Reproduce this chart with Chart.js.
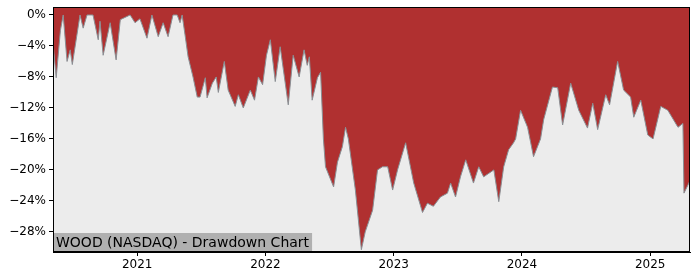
<!DOCTYPE html>
<html>
<head>
<meta charset="utf-8">
<script src="https://cdn.jsdelivr.net/npm/chart.js@4/dist/chart.umd.min.js"></script>
<style>
  html, body { margin:0; padding:0; background:#fff; }
  #wrap { width:700px; height:280px; position:relative; }
</style>
</head>
<body>
<div id="wrap"><canvas id="ddChart"></canvas></div>
<script>
const title = "WOOD (NASDAQ) - Drawdown Chart";

const dates = [
  "2020-05-07","2020-05-15","2020-05-27","2020-06-04","2020-06-15","2020-06-24","2020-06-30",
  "2020-07-22","2020-07-31","2020-08-11","2020-08-28","2020-09-12","2020-09-17","2020-09-26",
  "2020-10-16","2020-11-02","2020-11-14","2020-12-12","2020-12-26","2021-01-09","2021-01-29",
  "2021-02-12","2021-03-02","2021-03-16","2021-03-30","2021-04-13","2021-04-25","2021-05-03",
  "2021-05-09","2021-05-18","2021-05-26","2021-06-09","2021-06-21","2021-06-29","2021-07-14",
  "2021-07-19","2021-08-03","2021-08-14","2021-08-20","2021-09-06","2021-09-17","2021-10-07",
  "2021-10-16","2021-10-30","2021-11-19","2021-12-01","2021-12-12","2021-12-24","2022-01-04",
  "2022-01-15","2022-01-29","2022-02-12","2022-03-07","2022-03-21","2022-04-07","2022-04-21",
  "2022-04-30","2022-05-06","2022-05-14","2022-05-29","2022-06-07","2022-06-15","2022-06-21",
  "2022-07-14","2022-07-25","2022-08-08","2022-08-17","2022-08-25","2022-09-14","2022-10-01",
  "2022-10-12","2022-11-02","2022-11-16","2022-11-30","2022-12-15","2022-12-29","2023-01-12",
  "2023-02-04","2023-02-27","2023-03-24","2023-04-07","2023-04-24","2023-05-14","2023-06-03",
  "2023-06-12","2023-06-26","2023-07-10","2023-07-25","2023-08-16","2023-08-31","2023-09-14",
  "2023-10-13","2023-10-27","2023-11-10","2023-11-24","2023-12-08","2023-12-14","2023-12-28",
  "2024-01-17","2024-01-26","2024-02-03","2024-02-23","2024-03-03","2024-03-28","2024-04-12",
  "2024-04-26","2024-05-19","2024-06-11","2024-07-06","2024-07-21","2024-08-04","2024-08-27",
  "2024-09-07","2024-09-30","2024-10-17","2024-11-06","2024-11-15","2024-12-05","2024-12-25",
  "2025-01-09","2025-01-31","2025-02-20","2025-03-21","2025-04-04","2025-04-07","2025-04-21",
  "2025-04-27"
];

const drawdown = [
  -4.1,-8.1,-2.0,0.0,-6.0,-4.5,-6.4,
  0.0,-1.7,0.0,0.0,-3.2,-0.8,-5.2,
  -1.0,-5.8,-0.6,0.0,-1.0,-0.5,-3.0,
  0.0,-2.8,-1.0,-2.8,0.0,0.0,-1.0,
  0.0,-2.8,-5.4,-8.0,-10.6,-10.6,-8.1,
  -10.7,-8.8,-8.0,-10.0,-6.0,-9.7,-11.8,
  -10.3,-12.0,-9.7,-11.0,-8.0,-9.0,-5.2,
  -3.2,-8.6,-4.1,-11.6,-5.2,-8.0,-4.5,
  -6.5,-5.4,-11.0,-8.1,-7.4,-16.0,-19.6,
  -22.2,-19.0,-17.0,-14.5,-16.0,-22.6,-30.3,
  -28.0,-25.2,-20.0,-19.6,-19.6,-22.6,-20.0,
  -16.5,-21.7,-25.5,-24.3,-24.7,-23.5,-23.0,
  -21.7,-23.5,-20.9,-18.7,-21.7,-19.6,-20.9,
  -20.0,-24.1,-19.6,-17.4,-16.5,-16.0,-12.3,
  -14.5,-16.5,-18.3,-16.0,-13.5,-9.3,-9.4,
  -14.2,-8.8,-12.3,-14.6,-11.4,-14.8,-10.3,
  -11.6,-6.0,-9.7,-10.6,-13.2,-11.0,-15.5,
  -16.0,-11.8,-12.3,-14.5,-14.0,-23.0,-21.7,
  -21.0
];

const yTicks = [0,-4,-8,-12,-16,-20,-24,-28];
const xTicks = [2021,2022,2023,2024,2025];

function toYear(s){
    const d = Date.parse(s+"T00:00:00Z");
    const y = Number(s.slice(0,4));
    const a = Date.UTC(y,0,1), b = Date.UTC(y+1,0,1);
    return y + (d-a)/(b-a);
}

const points = dates.map((d,i)=>({x: toYear(d), y: drawdown[i]}));

const frame = {
    id:'frame',
    beforeDraw(chart){
        const {ctx, chartArea:a} = chart;
        ctx.save();
        ctx.fillStyle = '#ececec';
        ctx.fillRect(a.left, a.top, a.right-a.left, a.bottom-a.top);
        ctx.restore();
    },
    afterDraw(chart){
        const {ctx, chartArea:a} = chart;
        ctx.save();
        // title box
        ctx.font = '14px "DejaVu Sans"';
        const w = ctx.measureText(title).width;
        ctx.fillStyle = '#b0b0b0';
        ctx.fillRect(a.left, a.bottom-19, w+6, 19);
        ctx.fillStyle = '#000';
        ctx.textBaseline = 'middle';
        ctx.fillText(title, a.left+3, a.bottom-9);
        // box border
        ctx.strokeStyle = '#000';
        ctx.lineWidth = 1;
        ctx.strokeRect(a.left+0.5, a.top+0.5, a.right-a.left-1, a.bottom-a.top-1);
        ctx.restore();
    }
};

new Chart(document.getElementById('ddChart'), {
    type:'line',
    data:{
        datasets:[{
            data: points,
            borderColor:'#8a8f94',
            borderWidth:1,
            backgroundColor:'#b03030',
            fill:'end',
            pointRadius:0,
            tension:0
        }]
    },
    options:{
        responsive:true,
        maintainAspectRatio:false,
        animation:false,
        layout:{ padding:{ left:0, right:10, top:7, bottom:0 } },
        plugins:{ legend:{display:false}, tooltip:{enabled:false} },
        scales:{
            x:{
                type:'linear',
                min: 2020.344,
                max: 2025.31,
                afterBuildTicks: s => { s.ticks = xTicks.map(v=>({value:v})); },
                afterFit: s => { s.height = 28; s.paddingLeft = 0; s.paddingRight = 0; },
                ticks:{
                    color:'#000',
                    font:{ family:'DejaVu Sans', size:12 },
                    padding:2,
                    maxRotation:0,
                    callback: v => String(v)
                },
                grid:{ drawOnChartArea:false, tickLength:4, color:'#000' },
                border:{ display:true, color:'#000' }
            },
            y:{
                min:-30.6,
                max:1.03,
                afterBuildTicks: s => { s.ticks = yTicks.map(v=>({value:v})); },
                afterFit: s => { s.width = 53; s.paddingTop = 0; s.paddingBottom = 0; },
                ticks:{
                    color:'#000',
                    font:{ family:'DejaVu Sans', size:12 },
                    padding:3,
                    callback: v => (v<0 ? '\u2212'+Math.abs(v) : v) + '%'
                },
                grid:{ drawOnChartArea:false, tickLength:4, color:'#000' },
                border:{ display:true, color:'#000' }
            }
        }
    },
    plugins:[frame]
});
</script>
</body>
</html>
